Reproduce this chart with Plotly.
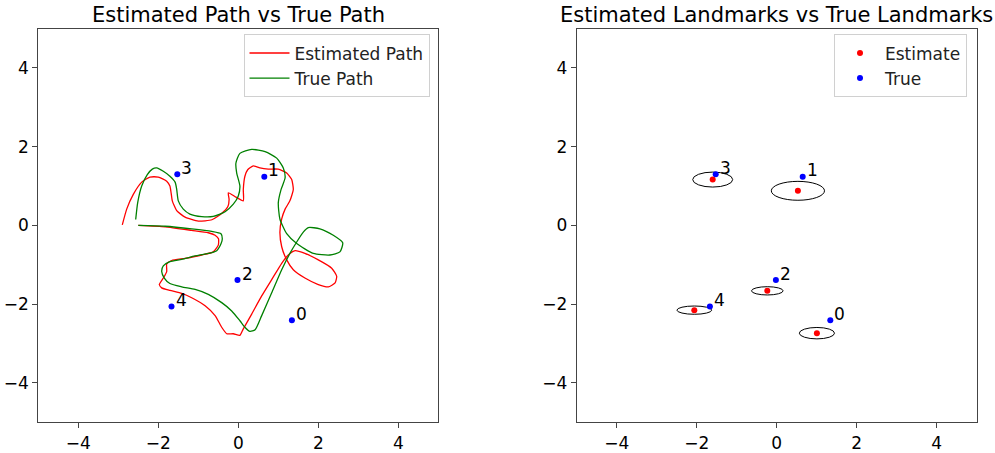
import plotly.graph_objects as go

# ---- data ----
est_path_x = [-2.50, -1.83, -1.165, -0.75, -0.58, -0.495, -0.50, -0.625, -0.915, -1.33, -1.665, -1.79, -1.79,
              -1.875, -1.975, -1.915, -1.71, -1.415, -1.165, -0.83, -0.58, -0.415, -0.29, -0.125, 0.04, 0.125,
              0.335, 0.585, 0.835, 1.085, 1.25, 1.42, 1.665, 2.0, 2.335, 2.46, 2.42, 2.25, 2.0, 1.665, 1.375,
              1.21, 1.085, 1.04, 1.085, 1.17, 1.29, 1.375, 1.335, 1.21, 1.0, 0.75, 0.54, 0.375, 0.235, 0.165,
              0.125, 0.125, -0.06, -0.25, -0.23, -0.26, -0.41, -0.66, -1.0, -1.33, -1.54, -1.65, -1.68, -1.71,
              -1.79, -2.0, -2.21, -2.415, -2.625, -2.79, -2.9]
est_path_y = [0.00, -0.035, -0.125, -0.185, -0.25, -0.34, -0.50, -0.67, -0.75, -0.835, -0.89, -0.975, -1.17,
              -1.335, -1.5, -1.585, -1.65, -1.725, -1.835, -2.04, -2.29, -2.585, -2.75, -2.75, -2.79, -2.625,
              -2.25, -1.79, -1.375, -0.96, -0.75, -0.64, -0.71, -0.875, -1.085, -1.29, -1.46, -1.56, -1.5,
              -1.335, -1.125, -0.875, -0.54, -0.17, 0.165, 0.415, 0.625, 0.915, 1.165, 1.33, 1.43, 1.43, 1.46,
              1.515, 1.415, 1.25, 0.915, 0.625, 0.72, 0.83, 0.66, 0.48, 0.31, 0.145, 0.11, 0.21, 0.375, 0.625,
              0.83, 1.0, 1.125, 1.23, 1.23, 1.1, 0.79, 0.415, 0.015]

true_path_x = [-2.50, -1.83, -1.165, -0.665, -0.4325, -0.40, -0.43, -0.54, -0.75, -1.08, -1.415, -1.71, -1.875,
               -1.915, -1.85, -1.71, -1.415, -1.08, -0.75, -0.415, -0.165, 0.04, 0.17, 0.29, 0.42, 0.585, 0.835,
               1.085, 1.29, 1.46, 1.625, 1.75, 2.04, 2.375, 2.61, 2.54, 2.29, 1.875, 1.46, 1.21, 1.04, 1.0,
               1.07, 1.17, 1.125, 0.96, 0.67, 0.335, 0.04, -0.06, -0.04, 0.04, 0.0, -0.125, -0.33, -0.625,
               -0.915, -1.21, -1.375, -1.5, -1.54, -1.58, -1.71, -1.875, -2.04, -2.15, -2.275, -2.415, -2.515,
               -2.565]
true_path_y = [0.00, -0.02, -0.085, -0.15, -0.21, -0.335, -0.46, -0.64, -0.71, -0.775, -0.86, -0.92, -1.025,
               -1.17, -1.335, -1.475, -1.56, -1.625, -1.75, -1.96, -2.17, -2.42, -2.59, -2.69, -2.65, -2.29,
               -1.71, -1.125, -0.71, -0.42, -0.17, -0.055, -0.085, -0.25, -0.44, -0.67, -0.75, -0.71, -0.46,
               -0.21, 0.165, 0.58, 0.915, 1.21, 1.46, 1.71, 1.875, 1.93, 1.83, 1.58, 1.33, 1.0, 0.75, 0.54,
               0.35, 0.23, 0.225, 0.29, 0.415, 0.625, 0.915, 1.1, 1.25, 1.375, 1.46, 1.43, 1.29, 1.0, 0.58, 0.15]

landmark_ids = ["0", "1", "2", "3", "4"]
true_lm_x = [1.34, 0.65, -0.02, -1.525, -1.67]
true_lm_y = [-2.41, 1.24, -1.385, 1.30, -2.06]
est_lm_x = [1.005, 0.53, -0.235, -1.60, -2.06]
est_lm_y = [-2.735, 0.88, -1.66, 1.165, -2.15]
ell_a = [0.44, 0.665, 0.395, 0.50, 0.435]   # semi-axis in x
ell_b = [0.145, 0.24, 0.105, 0.19, 0.105]   # semi-axis in y

tick_vals = [-4, -2, 0, 2, 4]
tick_text = ["\u22124", "\u22122", "0", "2", "4"]

FONT = "DejaVu Sans"
W, H = 995, 453

fig = go.Figure()

# left plot
fig.add_trace(go.Scatter(x=est_path_x, y=est_path_y, mode="lines", name="Estimated Path",
                         line=dict(color="red", width=1.3, shape="spline", smoothing=0.5),
                         xaxis="x", yaxis="y", legend="legend"))
fig.add_trace(go.Scatter(x=true_path_x, y=true_path_y, mode="lines", name="True Path",
                         line=dict(color="green", width=1.3, shape="spline", smoothing=0.6),
                         xaxis="x", yaxis="y", legend="legend"))
fig.add_trace(go.Scatter(x=true_lm_x, y=true_lm_y, mode="markers", showlegend=False,
                         marker=dict(color="blue", size=6), xaxis="x", yaxis="y"))

# right plot
fig.add_trace(go.Scatter(x=est_lm_x, y=est_lm_y, mode="markers", name="Estimate",
                         marker=dict(color="red", size=6), xaxis="x2", yaxis="y2", legend="legend2"))
fig.add_trace(go.Scatter(x=true_lm_x, y=true_lm_y, mode="markers", name="True",
                         marker=dict(color="blue", size=6), xaxis="x2", yaxis="y2", legend="legend2"))

shapes = []
for cx, cy, a, b in zip(est_lm_x, est_lm_y, ell_a, ell_b):
    shapes.append(dict(type="circle", xref="x2", yref="y2", x0=cx - a, x1=cx + a, y0=cy - b, y1=cy + b,
                       line=dict(color="black", width=1), layer="below"))

annotations = []
for ax in ["", "2"]:
    for lid, lx, ly in zip(landmark_ids, true_lm_x, true_lm_y):
        annotations.append(dict(x=lx + 0.05, y=ly - 0.14, xref="x" + ax, yref="y" + ax, text=lid,
                                showarrow=False, xanchor="left", yanchor="bottom",
                                font=dict(family=FONT, size=17, color="black")))

dom_top = 1 - 29 / H
dom_bot = 1 - 429 / H
annotations.append(dict(x=(38.3 + 438.3) / 2 / W, y=dom_top, xref="paper", yref="paper",
                        text="Estimated Path vs True Path", showarrow=False, xanchor="center",
                        yanchor="bottom", font=dict(family=FONT, size=21, color="black")))
annotations.append(dict(x=(576.7 + 976.7) / 2 / W, y=dom_top, xref="paper", yref="paper",
                        text="Estimated Landmarks vs True Landmarks", showarrow=False, xanchor="center",
                        yanchor="bottom", font=dict(family=FONT, size=21, color="black")))

axis_common = dict(range=[-5, 5], tickvals=tick_vals, ticktext=tick_text, showgrid=False, zeroline=False,
                   showline=True, mirror=True, linecolor="#444", linewidth=1, ticks="outside",
                   ticklen=5, tickcolor="#444", tickfont=dict(family=FONT, size=17, color="black"))

legend_common = dict(font=dict(family=FONT, size=17, color="#222"), bgcolor="rgba(255,255,255,0.8)",
                     bordercolor="#d0d0d0", borderwidth=1, xanchor="right", yanchor="top",
                     itemwidth=40)

fig.update_layout(
    width=W, height=H, margin=dict(l=0, r=0, t=0, b=0),
    paper_bgcolor="white", plot_bgcolor="white",
    xaxis=dict(domain=[38.3 / W, 438.3 / W], anchor="y", **axis_common),
    yaxis=dict(domain=[dom_bot, dom_top], anchor="x", **axis_common),
    xaxis2=dict(domain=[576.7 / W, 976.7 / W], anchor="y2", **axis_common),
    yaxis2=dict(domain=[dom_bot, dom_top], anchor="x2", **axis_common),
    legend=dict(x=429.5 / W, y=1 - 35 / H, **legend_common),
    legend2=dict(x=967 / W, y=1 - 35 / H, **legend_common),
    shapes=shapes, annotations=annotations,
)

fig.write_html("out.html")
